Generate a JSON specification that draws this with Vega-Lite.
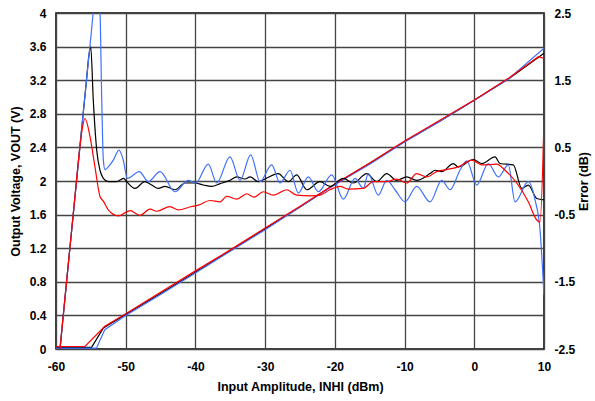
{
  "$schema": "https://vega.github.io/schema/vega-lite/v6.json",
  "width": 488,
  "height": 336,
  "autosize": {"type": "none"},
  "padding": {"left": 56, "top": 13, "right": 51, "bottom": 52},
  "background": "#ffffff",
  "config": {
    "view": {"stroke": "#000000", "strokeWidth": 1.5},
    "font": "Liberation Sans",
    "axis": {
      "labelFont": "Liberation Sans",
      "labelFontWeight": "bold",
      "labelFontSize": 12,
      "labelColor": "#000000",
      "titleFont": "Liberation Sans",
      "titleFontWeight": "bold",
      "titleFontSize": 12.5,
      "titleColor": "#000000",
      "ticks": false,
      "domain": false
    }
  },
  "datasets": {
    "volt": [
      {"s": "black", "x": -60, "v": 0.02},
      {"s": "black", "x": -54.9, "v": 0.02},
      {"s": "black", "x": -53.2, "v": 0.25},
      {"s": "black", "x": -50, "v": 0.41},
      {"s": "black", "x": -45, "v": 0.66},
      {"s": "black", "x": -40, "v": 0.915},
      {"s": "black", "x": -35, "v": 1.17},
      {"s": "black", "x": -30, "v": 1.43},
      {"s": "black", "x": -25, "v": 1.69},
      {"s": "black", "x": -20, "v": 1.96},
      {"s": "black", "x": -15, "v": 2.21},
      {"s": "black", "x": -10, "v": 2.47},
      {"s": "black", "x": -5, "v": 2.71},
      {"s": "black", "x": 0, "v": 2.96},
      {"s": "black", "x": 5, "v": 3.22},
      {"s": "black", "x": 10, "v": 3.52},
      {"s": "blue", "x": -60, "v": 0.01},
      {"s": "blue", "x": -54.2, "v": 0.01},
      {"s": "blue", "x": -53, "v": 0.23},
      {"s": "blue", "x": -50, "v": 0.4},
      {"s": "blue", "x": -45, "v": 0.65},
      {"s": "blue", "x": -40, "v": 0.905},
      {"s": "blue", "x": -35, "v": 1.165},
      {"s": "blue", "x": -30, "v": 1.42},
      {"s": "blue", "x": -25, "v": 1.69},
      {"s": "blue", "x": -20, "v": 1.955},
      {"s": "blue", "x": -15, "v": 2.2},
      {"s": "blue", "x": -10, "v": 2.465},
      {"s": "blue", "x": -5, "v": 2.71},
      {"s": "blue", "x": 0, "v": 2.96},
      {"s": "blue", "x": 5, "v": 3.22},
      {"s": "blue", "x": 10, "v": 3.58},
      {"s": "red", "x": -60, "v": 0.03},
      {"s": "red", "x": -55.85, "v": 0.03},
      {"s": "red", "x": -53, "v": 0.27},
      {"s": "red", "x": -50, "v": 0.42},
      {"s": "red", "x": -45, "v": 0.675},
      {"s": "red", "x": -40, "v": 0.93},
      {"s": "red", "x": -35, "v": 1.18},
      {"s": "red", "x": -30, "v": 1.44},
      {"s": "red", "x": -25, "v": 1.7},
      {"s": "red", "x": -20, "v": 1.965},
      {"s": "red", "x": -15, "v": 2.215},
      {"s": "red", "x": -10, "v": 2.475},
      {"s": "red", "x": -5, "v": 2.72},
      {"s": "red", "x": 0, "v": 2.965},
      {"s": "red", "x": 5, "v": 3.23},
      {"s": "red", "x": 9.2, "v": 3.48},
      {"s": "red", "x": 10, "v": 3.46}
    ],
    "err": [
      {"s": "black", "x": -59.43, "e": -2.5},
      {"s": "black", "x": -58.4, "e": -1.41},
      {"s": "black", "x": -57.4, "e": -0.36},
      {"s": "black", "x": -56.4, "e": 0.69},
      {"s": "black", "x": -55.6, "e": 1.53},
      {"s": "black", "x": -55.3, "e": 1.85},
      {"s": "black", "x": -55.02, "e": 2.0},
      {"s": "black", "x": -54.65, "e": 1.2},
      {"s": "black", "x": -54.16, "e": 0.46},
      {"s": "black", "x": -53.69, "e": 0.16},
      {"s": "black", "x": -53.21, "e": 0.04},
      {"s": "black", "x": -52.5, "e": -0.01},
      {"s": "black", "x": -51.3, "e": -0.01},
      {"s": "black", "x": -50.3, "e": 0.04},
      {"s": "black", "x": -49.86, "e": -0.01},
      {"s": "black", "x": -48.67, "e": -0.11},
      {"s": "black", "x": -47.24, "e": -0.01},
      {"s": "black", "x": -46.27, "e": -0.06},
      {"s": "black", "x": -45.32, "e": -0.11},
      {"s": "black", "x": -44.36, "e": -0.08},
      {"s": "black", "x": -42.93, "e": -0.13},
      {"s": "black", "x": -41.5, "e": -0.03},
      {"s": "black", "x": -40.06, "e": -0.03},
      {"s": "black", "x": -38.87, "e": -0.06},
      {"s": "black", "x": -37.66, "e": -0.08},
      {"s": "black", "x": -36.47, "e": -0.04},
      {"s": "black", "x": -35.04, "e": 0.01},
      {"s": "black", "x": -34.08, "e": 0.06},
      {"s": "black", "x": -32.89, "e": 0.03},
      {"s": "black", "x": -32.17, "e": 0.06},
      {"s": "black", "x": -30.98, "e": -0.01},
      {"s": "black", "x": -30.02, "e": 0.03},
      {"s": "black", "x": -28.11, "e": 0.11},
      {"s": "black", "x": -26.68, "e": -0.01},
      {"s": "black", "x": -25.47, "e": 0.09},
      {"s": "black", "x": -24.04, "e": -0.13},
      {"s": "black", "x": -22.13, "e": -0.01},
      {"s": "black", "x": -20.69, "e": -0.08},
      {"s": "black", "x": -18.79, "e": 0.04},
      {"s": "black", "x": -17.35, "e": -0.03},
      {"s": "black", "x": -15.43, "e": 0.11},
      {"s": "black", "x": -14.0, "e": -0.01},
      {"s": "black", "x": -12.56, "e": 0.11},
      {"s": "black", "x": -11.13, "e": 0.01},
      {"s": "black", "x": -9.69, "e": 0.06},
      {"s": "black", "x": -8.26, "e": 0.01},
      {"s": "black", "x": -6.35, "e": 0.11},
      {"s": "black", "x": -5.63, "e": 0.16},
      {"s": "black", "x": -4.67, "e": 0.14},
      {"s": "black", "x": -3.01, "e": 0.26},
      {"s": "black", "x": -2.29, "e": 0.21},
      {"s": "black", "x": -0.14, "e": 0.32},
      {"s": "black", "x": 1.07, "e": 0.26},
      {"s": "black", "x": 2.98, "e": 0.36},
      {"s": "black", "x": 3.69, "e": 0.26},
      {"s": "black", "x": 5.6, "e": 0.24},
      {"s": "black", "x": 6.81, "e": -0.11},
      {"s": "black", "x": 7.75, "e": -0.06},
      {"s": "black", "x": 8.96, "e": -0.26},
      {"s": "black", "x": 10.0, "e": -0.28},
      {"s": "blue", "x": -59.43, "e": -2.5},
      {"s": "blue", "x": -58.4, "e": -1.41},
      {"s": "blue", "x": -57.4, "e": -0.36},
      {"s": "blue", "x": -56.4, "e": 0.69},
      {"s": "blue", "x": -55.4, "e": 1.74},
      {"s": "blue", "x": -54.65, "e": 2.54},
      {"s": "blue", "x": -54.2, "e": 3.2},
      {"s": "blue", "x": -53.69, "e": 2.54},
      {"s": "blue", "x": -53.44, "e": 1.21},
      {"s": "blue", "x": -53.21, "e": 0.31},
      {"s": "blue", "x": -52.97, "e": 0.17},
      {"s": "blue", "x": -52.5, "e": 0.21},
      {"s": "blue", "x": -51.78, "e": 0.31},
      {"s": "blue", "x": -50.96, "e": 0.46},
      {"s": "blue", "x": -50.35, "e": 0.31},
      {"s": "blue", "x": -49.77, "e": 0.04},
      {"s": "blue", "x": -48.05, "e": 0.14},
      {"s": "blue", "x": -46.76, "e": -0.01},
      {"s": "blue", "x": -45.08, "e": 0.14},
      {"s": "blue", "x": -42.93, "e": -0.16},
      {"s": "blue", "x": -41.02, "e": 0.01},
      {"s": "blue", "x": -39.96, "e": -0.03},
      {"s": "blue", "x": -38.15, "e": 0.25},
      {"s": "blue", "x": -36.95, "e": -0.03},
      {"s": "blue", "x": -35.04, "e": 0.36},
      {"s": "blue", "x": -33.6, "e": 0.01},
      {"s": "blue", "x": -32.07, "e": 0.39},
      {"s": "blue", "x": -30.74, "e": -0.01},
      {"s": "blue", "x": -29.06, "e": 0.24},
      {"s": "blue", "x": -27.87, "e": -0.03},
      {"s": "blue", "x": -26.43, "e": 0.16},
      {"s": "blue", "x": -25.24, "e": -0.18},
      {"s": "blue", "x": -23.81, "e": 0.06},
      {"s": "blue", "x": -22.37, "e": -0.16},
      {"s": "blue", "x": -20.45, "e": 0.09},
      {"s": "blue", "x": -18.79, "e": -0.27},
      {"s": "blue", "x": -17.11, "e": 0.04},
      {"s": "blue", "x": -15.92, "e": -0.11},
      {"s": "blue", "x": -15.2, "e": 0.11},
      {"s": "blue", "x": -13.77, "e": -0.21},
      {"s": "blue", "x": -12.56, "e": 0.01},
      {"s": "blue", "x": -11.37, "e": -0.13},
      {"s": "blue", "x": -9.94, "e": -0.31},
      {"s": "blue", "x": -8.26, "e": -0.08},
      {"s": "blue", "x": -6.35, "e": -0.31},
      {"s": "blue", "x": -4.67, "e": 0.01},
      {"s": "blue", "x": -3.48, "e": -0.13},
      {"s": "blue", "x": -2.05, "e": 0.16},
      {"s": "blue", "x": -1.08, "e": 0.3},
      {"s": "blue", "x": 0.35, "e": -0.06},
      {"s": "blue", "x": 2.01, "e": 0.26},
      {"s": "blue", "x": 3.45, "e": 0.06},
      {"s": "blue", "x": 4.88, "e": 0.24},
      {"s": "blue", "x": 5.85, "e": -0.31},
      {"s": "blue", "x": 7.75, "e": -0.01},
      {"s": "blue", "x": 8.71, "e": -0.28},
      {"s": "blue", "x": 9.43, "e": -0.73},
      {"s": "blue", "x": 10.0, "e": -1.7},
      {"s": "red", "x": -59.43, "e": -2.5},
      {"s": "red", "x": -58.4, "e": -1.41},
      {"s": "red", "x": -57.4, "e": -0.36},
      {"s": "red", "x": -56.6, "e": 0.48},
      {"s": "red", "x": -56.2, "e": 0.8},
      {"s": "red", "x": -55.84, "e": 0.93},
      {"s": "red", "x": -55.12, "e": 0.66},
      {"s": "red", "x": -54.41, "e": 0.21},
      {"s": "red", "x": -53.69, "e": -0.23},
      {"s": "red", "x": -53.21, "e": -0.3},
      {"s": "red", "x": -52.5, "e": -0.43},
      {"s": "red", "x": -51.06, "e": -0.52},
      {"s": "red", "x": -49.38, "e": -0.44},
      {"s": "red", "x": -47.95, "e": -0.51},
      {"s": "red", "x": -46.52, "e": -0.42},
      {"s": "red", "x": -45.55, "e": -0.45},
      {"s": "red", "x": -43.65, "e": -0.38},
      {"s": "red", "x": -42.46, "e": -0.43},
      {"s": "red", "x": -40.53, "e": -0.38},
      {"s": "red", "x": -39.59, "e": -0.36},
      {"s": "red", "x": -37.91, "e": -0.29},
      {"s": "red", "x": -36.47, "e": -0.31},
      {"s": "red", "x": -35.51, "e": -0.23},
      {"s": "red", "x": -34.08, "e": -0.27},
      {"s": "red", "x": -32.64, "e": -0.19},
      {"s": "red", "x": -31.6, "e": -0.24},
      {"s": "red", "x": -30.26, "e": -0.16},
      {"s": "red", "x": -28.83, "e": -0.21},
      {"s": "red", "x": -26.9, "e": -0.13},
      {"s": "red", "x": -25.47, "e": -0.21},
      {"s": "red", "x": -23.56, "e": -0.22},
      {"s": "red", "x": -22.13, "e": -0.21},
      {"s": "red", "x": -20.69, "e": -0.13},
      {"s": "red", "x": -19.26, "e": -0.08},
      {"s": "red", "x": -18.07, "e": -0.12},
      {"s": "red", "x": -15.92, "e": -0.11},
      {"s": "red", "x": -14.48, "e": -0.01},
      {"s": "red", "x": -12.56, "e": -0.01},
      {"s": "red", "x": -11.13, "e": 0.03},
      {"s": "red", "x": -9.69, "e": -0.03},
      {"s": "red", "x": -8.26, "e": 0.11},
      {"s": "red", "x": -6.82, "e": 0.06},
      {"s": "red", "x": -5.39, "e": 0.14},
      {"s": "red", "x": -3.95, "e": 0.17},
      {"s": "red", "x": -2.29, "e": 0.21},
      {"s": "red", "x": -0.37, "e": 0.31},
      {"s": "red", "x": 1.07, "e": 0.24},
      {"s": "red", "x": 3.22, "e": 0.25},
      {"s": "red", "x": 4.41, "e": 0.16},
      {"s": "red", "x": 6.09, "e": -0.03},
      {"s": "red", "x": 7.75, "e": -0.31},
      {"s": "red", "x": 8.96, "e": -0.58},
      {"s": "red", "x": 9.43, "e": -0.61},
      {"s": "red", "x": 10.0, "e": 0.91}
    ]
  },
  "layer": [
    {
      "data": {"name": "volt"},
      "mark": {"type": "line", "strokeWidth": 1.2, "clip": true},
      "encoding": {
        "x": {
          "field": "x",
          "type": "quantitative",
          "scale": {"domain": [-60, 10], "nice": false, "zero": false},
          "axis": {
            "values": [-60, -50, -40, -30, -20, -10, 0, 10],
            "labelExpr": "'' + datum.value",
            "grid": true,
            "gridColor": "#444444",
            "gridWidth": 1.3,
            "gridOpacity": 1,
            "labelPadding": 12,
            "labelFlush": false,
            "title": "Input Amplitude, INHI (dBm)",
            "titlePadding": 8
          }
        },
        "y": {
          "field": "v",
          "type": "quantitative",
          "scale": {"domain": [0, 4], "nice": false},
          "axis": {
            "values": [0, 0.4, 0.8, 1.2, 1.6, 2, 2.4, 2.8, 3.2, 3.6, 4],
            "labelExpr": "'' + datum.value",
            "grid": true,
            "gridColor": "#444444",
            "gridWidth": 1.3,
            "gridOpacity": 1,
            "labelPadding": 10,
            "labelFlush": false,
            "title": "Output Voltage, VOUT (V)",
            "titlePadding": 7
          }
        },
        "color": {
          "field": "s",
          "type": "nominal",
          "scale": {"domain": ["black", "blue", "red"], "range": ["#000000", "#4070ff", "#ff0000"]},
          "legend": null
        }
      }
    },
    {
      "data": {"name": "err"},
      "mark": {"type": "line", "strokeWidth": 1.2, "clip": true, "interpolate": "monotone"},
      "encoding": {
        "x": {
          "field": "x",
          "type": "quantitative",
          "axis": {
            "values": [-60, -50, -40, -30, -20, -10, 0, 10],
            "labelExpr": "'' + datum.value",
            "grid": true,
            "gridColor": "#444444",
            "gridWidth": 1.3,
            "gridOpacity": 1,
            "labelPadding": 12,
            "labelFlush": false,
            "title": "Input Amplitude, INHI (dBm)",
            "titlePadding": 8
          }
        },
        "y": {
          "field": "e",
          "type": "quantitative",
          "scale": {"domain": [-2.5, 2.5], "nice": false, "zero": false},
          "axis": {
            "orient": "right",
            "values": [-2.5, -1.5, -0.5, 0.5, 1.5, 2.5],
            "labelExpr": "'' + datum.value",
            "grid": false,
            "labelPadding": 10,
            "labelFlush": false,
            "title": "Error (dB)",
            "titleAngle": 270,
            "titlePadding": 16
          }
        },
        "color": {
          "field": "s",
          "type": "nominal",
          "scale": {"domain": ["black", "blue", "red"], "range": ["#000000", "#4070ff", "#ff0000"]},
          "legend": null
        }
      }
    }
  ],
  "resolve": {"scale": {"y": "independent"}}
}
